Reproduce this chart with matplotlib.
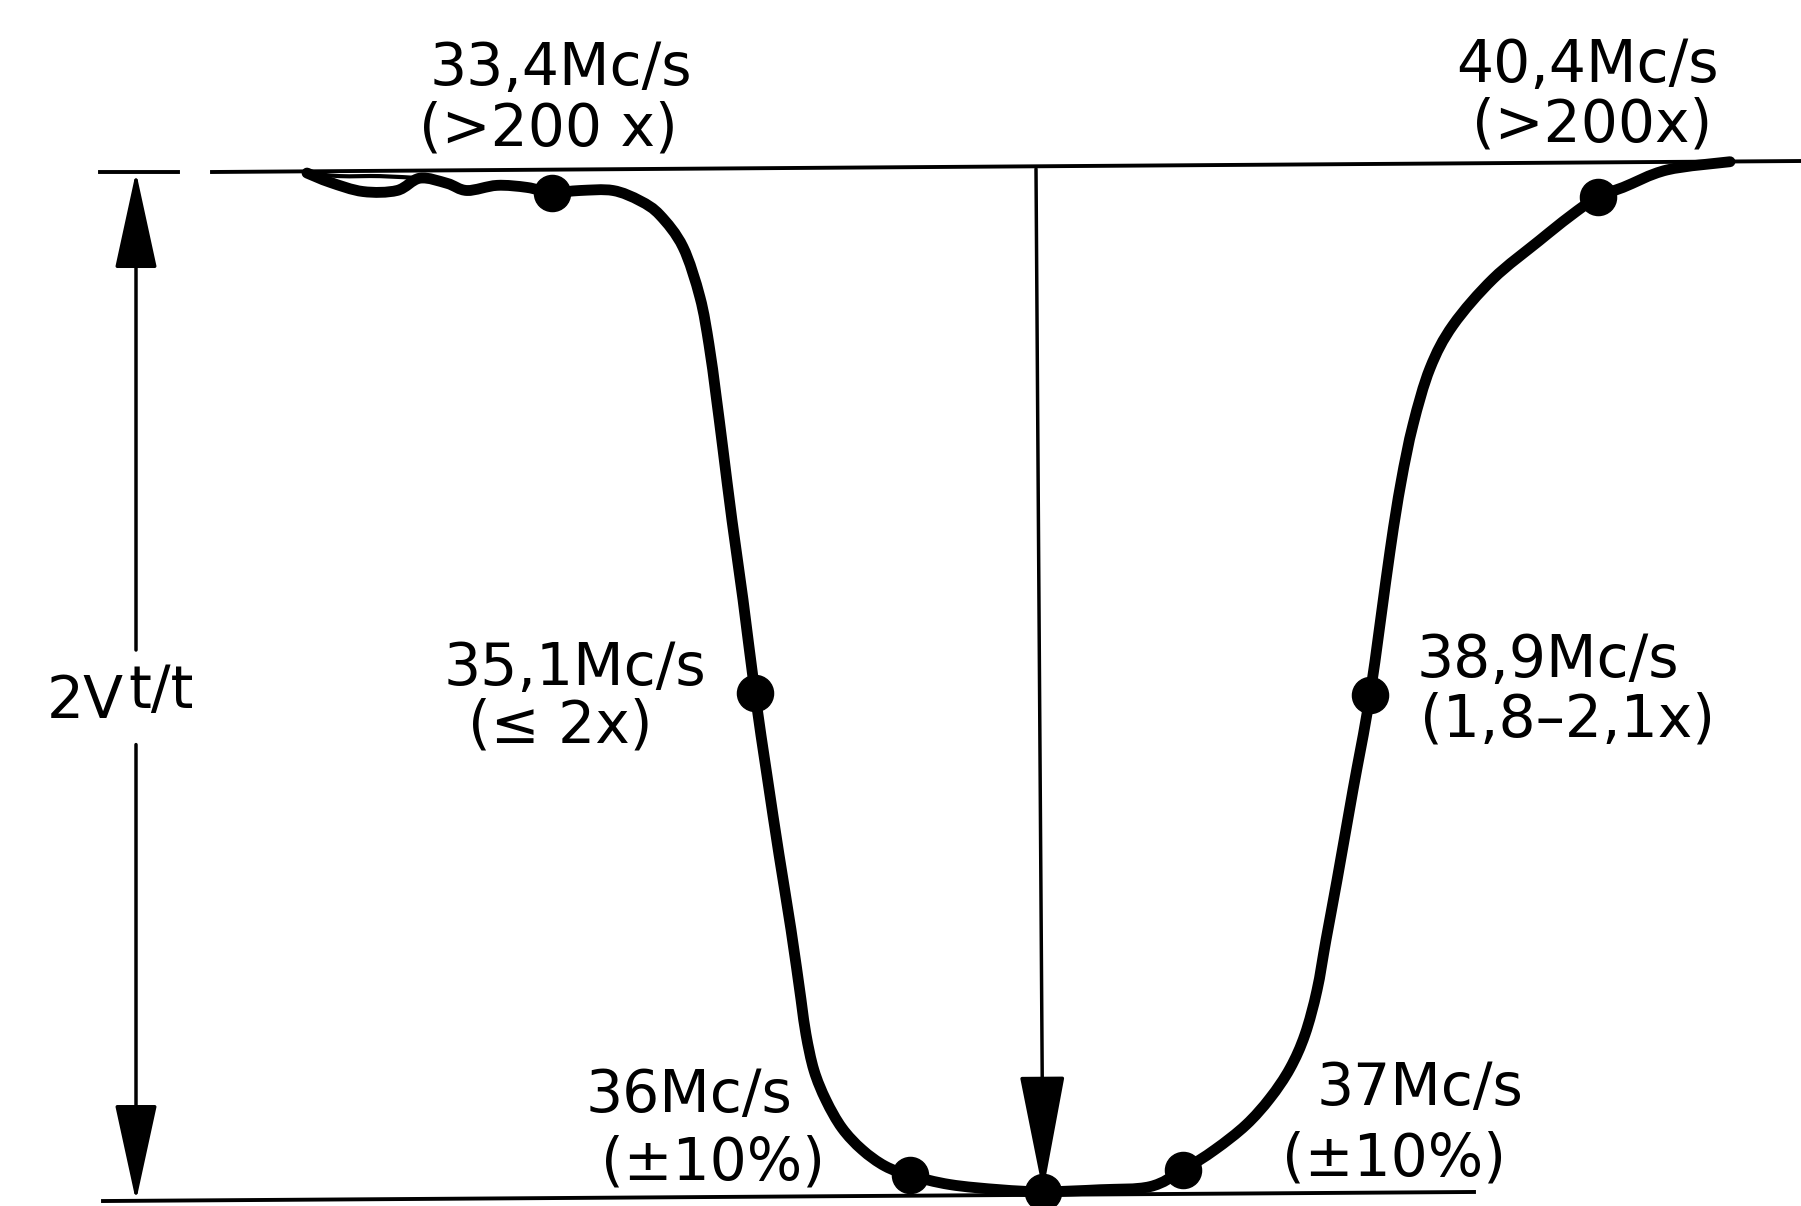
import matplotlib.pyplot as plt
from matplotlib.path import Path
from matplotlib.patches import PathPatch

# traced response curve: x position, relative amplitude (1 = top line, 0 = bottom line)
curve_x = [30.7, 33.0, 36.3, 39.7, 42.0, 44.7, 46.7, 49.7, 52.7, 55.2, 58.0, 61.3,
           64.0, 66.0, 68.3, 70.0, 70.9, 71.6, 72.3, 73.2, 74.3, 75.5, 76.7, 77.9,
           79.1, 80.1, 80.6, 81.4, 82.6, 84.2, 86.2, 88.5, 91.0, 95.0, 100.0, 104.3,
           110.0, 115.0, 118.3, 121.5, 124.6, 127.0, 129.0, 130.5, 131.7, 132.6,
           133.7, 135.3, 137.0, 139.0, 140.1, 141.3, 143.0, 145.3, 149.3, 153.9,
           157.0, 159.8, 162.3, 166.7, 173.0]
curve_y = [0.999, 0.990, 0.981, 0.982, 0.994, 0.989, 0.982, 0.987, 0.985, 0.980,
           0.982, 0.982, 0.972, 0.958, 0.927, 0.878, 0.832, 0.783, 0.730, 0.661,
           0.584, 0.493, 0.413, 0.336, 0.263, 0.195, 0.161, 0.126, 0.097, 0.070,
           0.049, 0.033, 0.024, 0.015, 0.010, 0.008, 0.010, 0.013, 0.029, 0.049,
           0.073, 0.099, 0.128, 0.161, 0.204, 0.253, 0.311, 0.399, 0.491, 0.631,
           0.698, 0.754, 0.809, 0.851, 0.896, 0.933, 0.957, 0.976, 0.985, 1.002,
           1.010]

# second thin strand at the top-left
strand_x = [30.7, 34.0, 38.0, 42.0]
strand_y = [0.999, 0.996, 0.996, 0.994]

# marked points
dot_x = [55.2, 75.5, 91.0, 104.3, 118.3, 137.0, 159.8]
dot_y = [0.980, 0.493, 0.024, 0.008, 0.029, 0.491, 0.976]

freq_labels = ['33,4Mc/s', '40,4Mc/s', '35,1Mc/s', '38,9Mc/s', '36Mc/s', '37Mc/s']
note_labels = ['(>200 x)', '(>200x)', '(≤ 2x)', '(1,8–2,1x)', '(±10%)', '(±10%)']


def smooth_path(xs, ys):
    # bezier path through the traced points (catmull-rom control points)
    pts = list(zip(xs, ys))
    verts = [pts[0]]
    codes = [Path.MOVETO]
    n = len(pts)
    for i in range(n - 1):
        p0 = pts[max(i - 1, 0)]
        p1 = pts[i]
        p2 = pts[i + 1]
        p3 = pts[min(i + 2, n - 1)]
        c1 = (p1[0] + (p2[0] - p0[0]) / 6, p1[1] + (p2[1] - p0[1]) / 6)
        c2 = (p2[0] - (p3[0] - p1[0]) / 6, p2[1] - (p3[1] - p1[1]) / 6)
        verts += [c1, c2, p2]
        codes += [Path.CURVE4] * 3
    return Path(verts, codes)


fig = plt.figure(figsize=(18.01, 12.06), dpi=100)
ax = fig.add_axes([0, 0, 1, 1])
ax.set_xlim(0, 180.1)
ax.set_ylim(-0.00584, 1.16732)
ax.axis('off')

# reference lines
ax.plot([10.0, 17.8], [1.0, 1.0], color='k', lw=2.8)
ax.plot([21.2, 180.1], [1.0, 1.0107], color='k', lw=2.8)
ax.plot([10.3, 147.4], [-0.001, 0.0078], color='k', lw=2.8)

# curve and points
ax.add_patch(PathPatch(smooth_path(curve_x, curve_y), fill=False, edgecolor='k',
                       lw=7.8, capstyle='round', joinstyle='round'))
ax.add_patch(PathPatch(smooth_path(strand_x, strand_y), fill=False, edgecolor='k', lw=3))
ax.plot(dot_x, dot_y, 'o', color='k', markersize=26)

# left double arrow (2V t/t)
arr = dict(color='k', lw=2.5, shrinkA=0, shrinkB=0,
           arrowstyle='-|>,head_length=0.62,head_width=0.135', mutation_scale=100)
ax.annotate('', xy=(13.6, 1.0), xytext=(13.6, 0.535), arrowprops=arr)
ax.annotate('', xy=(13.6, -0.001), xytext=(13.6, 0.443), arrowprops=arr)

# centre arrow
arr_c = dict(color='k', lw=2.5, shrinkA=0, shrinkB=0,
             arrowstyle='-|>,head_length=0.75,head_width=0.145', mutation_scale=100)
ax.annotate('', xy=(104.3, 0.008), xytext=(103.6, 1.003), arrowprops=arr_c)

fs = 42
ax.text(4.7, 0.469, '2V', fontsize=fs, ha='left', va='baseline')
ax.text(12.8, 0.479, 't/t', fontsize=fs, ha='left', va='baseline')

# labels
ax.text(56.1, 1.0846, freq_labels[0], fontsize=fs, ha='center', va='baseline')
ax.text(54.8, 1.0253, note_labels[0], fontsize=fs, ha='center', va='baseline')
ax.text(158.7, 1.0875, freq_labels[1], fontsize=fs, ha='center', va='baseline')
ax.text(159.2, 1.0300, note_labels[1], fontsize=fs, ha='center', va='baseline')
ax.text(57.5, 0.5010, freq_labels[2], fontsize=fs, ha='center', va='baseline')
ax.text(46.8, 0.4455, note_labels[2], fontsize=fs, ha='left', va='baseline')
ax.text(141.7, 0.5088, freq_labels[3], fontsize=fs, ha='left', va='baseline')
ax.text(142.0, 0.4504, note_labels[3], fontsize=fs, ha='left', va='baseline')
ax.text(79.2, 0.0856, freq_labels[4], fontsize=fs, ha='right', va='baseline')
ax.text(71.3, 0.0195, note_labels[4], fontsize=fs, ha='center', va='baseline')
ax.text(142.0, 0.0924, freq_labels[5], fontsize=fs, ha='center', va='baseline')
ax.text(139.4, 0.0243, note_labels[5], fontsize=fs, ha='center', va='baseline')

plt.savefig('out.png', dpi=100)
